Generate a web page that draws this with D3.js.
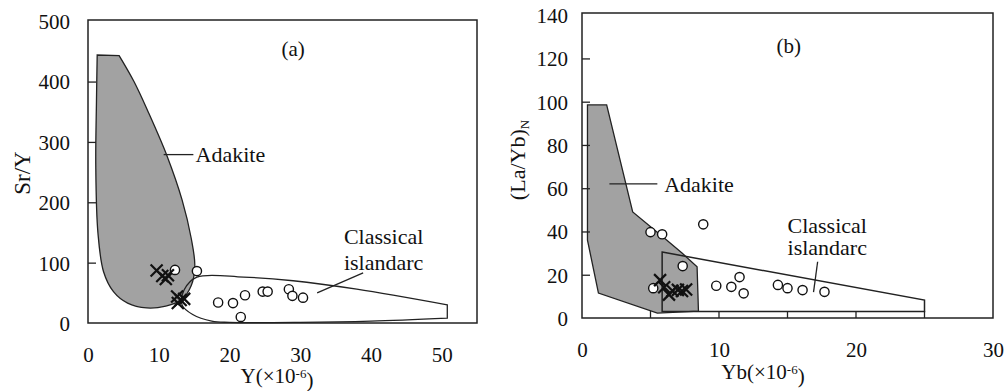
<!DOCTYPE html>
<html>
<head>
<meta charset="utf-8">
<script src="https://cdn.jsdelivr.net/npm/d3@7/dist/d3.min.js"></script>
<style>
  body { margin: 0; background: #fff; }
  svg text { font-family: "Liberation Serif", "DejaVu Serif", serif; fill: #111; }
</style>
</head>
<body>
<svg id="chart" width="1006" height="391"></svg>
<script>
// ---- data, panel (a): Sr/Y vs Y ----
const ticksAx = [0, 10, 20, 30, 40, 50];
const ticksAy = [0, 100, 200, 300, 400, 500];
// Adakite field outline (Y, Sr/Y), starting at top-right corner
const adakiteA = [[4.4, 443], [6.5, 400], [8.5, 350], [11.2, 276], [13.3, 204], [14.6, 140],
  [15.1, 95], [14.6, 62], [13.2, 38], [11.0, 28], [8.3, 25], [5.6, 33], [3.6, 52], [2.2, 85],
  [1.4, 150], [1.1, 260], [1.2, 370], [1.3, 444]];
// Classical island arc outline, starting at bottom-right corner
const arcA = [[50.8, 8], [40, 3], [30, 1], [20, 1], [17.5, 3], [14.8, 14], [13.3, 30],
  [13.6, 55], [15.4, 76], [22, 76], [29, 70], [38, 56], [50.8, 30]];
const circlesA = [[12.3, 88], [15.4, 86], [18.4, 34], [20.5, 33], [22.2, 46], [21.6, 10],
  [24.7, 52], [25.4, 52], [28.4, 56], [28.9, 45], [30.4, 42]];
const crossesA = [[9.7, 87], [10.5, 78], [11.0, 73], [11.3, 79], [12.6, 44], [13.1, 38],
  [13.6, 40], [12.7, 33]];

// ---- data, panel (b): (La/Yb)N vs Yb ----
const ticksBx = [0, 10, 20, 30];
const minorBx = [5, 10, 15, 20, 25];
const ticksBy = [0, 20, 40, 60, 80, 100, 120, 140];
const adakiteB = [[0.4, 98.5], [1.8, 98.5], [3.7, 49], [6.0, 37], [7.3, 30], [8.4, 23.7],
  [8.5, 3.2], [5.5, 2.3], [1.2, 11.5], [0.4, 36]];
const arcB = [[5.85, 30.5], [25, 8.3], [25, 3], [5.85, 3]];
const circlesB = [[5.0, 39.7], [5.85, 38.7], [8.85, 43.3], [7.35, 24], [5.2, 13.8], [9.8, 14.9],
  [10.9, 14.4], [11.5, 18.9], [11.8, 11.4], [14.3, 15.3], [15.0, 13.8], [16.1, 12.9], [17.7, 12.1]];
const crossesB = [[5.7, 17.5], [6.0, 14.2], [6.35, 10.8], [6.6, 12.6], [7.0, 13], [7.3, 12.5], [7.6, 13.2]];

const svg = d3.select("#chart");
const fieldFill = "#a2a2a2";

function drawMarkers(g, x, y, circles, crosses) {
  g.selectAll("circle.pt").data(circles).join("circle")
    .attr("class", "pt")
    .attr("cx", d => x(d[0])).attr("cy", d => y(d[1])).attr("r", 4.6)
    .attr("fill", "#fff").attr("stroke", "#111").attr("stroke-width", 1.4);
  const s = 6;
  g.selectAll("path.cr").data(crosses).join("path")
    .attr("class", "cr")
    .attr("d", d => {
      const cx = x(d[0]), cy = y(d[1]);
      return `M${cx - s},${cy - s}L${cx + s},${cy + s}M${cx - s},${cy + s}L${cx + s},${cy - s}`;
    })
    .attr("stroke", "#111").attr("stroke-width", 2.2).attr("fill", "none");
}

// ================= panel (a) =================
{
  const x = d3.scaleLinear().domain([0, 55]).range([88, 477]);
  const y = d3.scaleLinear().domain([0, 502]).range([323, 20]);
  const g = svg.append("g");

  const smooth = d3.line().x(d => x(d[0])).y(d => y(d[1])).curve(d3.curveCatmullRom.alpha(0.5));

  g.append("path").attr("d", smooth(adakiteA) + "Z")
    .attr("fill", fieldFill).attr("stroke", "#222").attr("stroke-width", 1.3);
  g.append("path").attr("d", smooth(arcA) + "Z")
    .attr("fill", "none").attr("stroke", "#222").attr("stroke-width", 1.3);

  // frame
  g.append("rect").attr("x", x(0)).attr("y", y(502)).attr("width", x(55) - x(0))
    .attr("height", y(0) - y(502)).attr("fill", "none").attr("stroke", "#222").attr("stroke-width", 1.5);

  // y axis: inward ticks, labels on the left
  const yAxis = d3.axisLeft(y).tickValues(ticksAy).tickSizeInner(-8).tickSizeOuter(0).tickPadding(18);
  const ya = g.append("g").attr("transform", `translate(${x(0)},0)`).call(yAxis);
  ya.select(".domain").remove();
  ya.selectAll(".tick line").attr("stroke", "#222").attr("stroke-width", 1.3)
    .filter(d => d === 0 || d === 500).remove();
  ya.selectAll("text").style("font-size", "21px").attr("dy", "0.35em");

  // x axis: labels only
  const xAxis = d3.axisBottom(x).tickValues(ticksAx).tickSize(0).tickPadding(24);
  const xa = g.append("g").attr("transform", `translate(0,${y(0)})`).call(xAxis);
  xa.select(".domain").remove();
  xa.selectAll("text").style("font-size", "21px");

  // annotations
  g.append("line").attr("x1", x(10.7)).attr("x2", x(14.9)).attr("y1", y(279)).attr("y2", y(279))
    .attr("stroke", "#222").attr("stroke-width", 1.3);
  g.append("text").attr("x", x(15.2)).attr("y", y(279)).attr("dy", "0.35em")
    .style("font-size", "22px").text("Adakite");
  g.append("line").attr("x1", x(32.4)).attr("y1", y(50)).attr("x2", x(38.9)).attr("y2", y(83))
    .attr("stroke", "#222").attr("stroke-width", 1.3);
  g.append("text").attr("x", x(41.8)).attr("y", y(143)).attr("text-anchor", "middle")
    .attr("dy", "0.35em").style("font-size", "22px").text("Classical");
  g.append("text").attr("x", x(41.8)).attr("y", y(101)).attr("text-anchor", "middle")
    .attr("dy", "0.35em").style("font-size", "22px").text("islandarc");
  g.append("text").attr("x", x(29)).attr("y", y(455)).attr("text-anchor", "middle")
    .attr("dy", "0.35em").style("font-size", "21px").text("(a)");

  drawMarkers(g, x, y, circlesA, crossesA);

  // axis titles
  g.append("text").attr("transform", "translate(22,173) rotate(-90)")
    .attr("text-anchor", "middle").attr("dy", "0.35em").style("font-size", "23px").text("Sr/Y");
  const xt = g.append("text").attr("x", 277).attr("y", 376).attr("text-anchor", "middle")
    .attr("dy", "0.35em").style("font-size", "21px");
  xt.append("tspan").text("Y(×10");
  xt.append("tspan").attr("dy", "-0.45em").style("font-size", "13px").text("-6");
  xt.append("tspan").attr("dy", "0.45em").text(")");
}

// ================= panel (b) =================
{
  const x = d3.scaleLinear().domain([0, 30]).range([582, 993]);
  const y = d3.scaleLinear().domain([0, 141]).range([318, 13]);
  const g = svg.append("g");

  const poly = d3.line().x(d => x(d[0])).y(d => y(d[1]));

  g.append("path").attr("d", poly(adakiteB) + "Z")
    .attr("fill", fieldFill).attr("stroke", "#222").attr("stroke-width", 1.3);
  g.append("path").attr("d", poly(arcB) + "Z")
    .attr("fill", "none").attr("stroke", "#222").attr("stroke-width", 1.5);

  g.append("rect").attr("x", x(0)).attr("y", y(141)).attr("width", x(30) - x(0))
    .attr("height", y(0) - y(141)).attr("fill", "none").attr("stroke", "#222").attr("stroke-width", 1.5);

  const yAxis = d3.axisLeft(y).tickValues(ticksBy).tickSizeInner(-8).tickSizeOuter(0).tickPadding(14);
  const ya = g.append("g").attr("transform", `translate(${x(0)},0)`).call(yAxis);
  ya.select(".domain").remove();
  ya.selectAll(".tick line").attr("stroke", "#222").attr("stroke-width", 1.3)
    .filter(d => d === 0 || d === 140).remove();
  ya.selectAll("text").style("font-size", "21px").attr("dy", "0.35em");

  // inward minor ticks on the bottom edge
  g.selectAll("line.xt").data(minorBx).join("line").attr("class", "xt")
    .attr("x1", d => x(d)).attr("x2", d => x(d)).attr("y1", y(0)).attr("y2", y(0) - 7)
    .attr("stroke", "#222").attr("stroke-width", 1.3);

  const xAxis = d3.axisBottom(x).tickValues(ticksBx).tickSize(0).tickPadding(24);
  const xa = g.append("g").attr("transform", `translate(0,${y(0)})`).call(xAxis);
  xa.select(".domain").remove();
  xa.selectAll("text").style("font-size", "21px");

  g.append("line").attr("x1", x(2.0)).attr("x2", x(5.5)).attr("y1", y(62)).attr("y2", y(62))
    .attr("stroke", "#222").attr("stroke-width", 1.3);
  g.append("text").attr("x", x(6.0)).attr("y", y(62)).attr("dy", "0.35em")
    .style("font-size", "22px").text("Adakite");
  g.append("line").attr("x1", x(16.9)).attr("y1", y(12)).attr("x2", x(17.2)).attr("y2", y(26))
    .attr("stroke", "#222").attr("stroke-width", 1.3);
  g.append("text").attr("x", x(17.9)).attr("y", y(43)).attr("text-anchor", "middle")
    .attr("dy", "0.35em").style("font-size", "22px").text("Classical");
  g.append("text").attr("x", x(17.9)).attr("y", y(32.5)).attr("text-anchor", "middle")
    .attr("dy", "0.35em").style("font-size", "22px").text("islandarc");
  g.append("text").attr("x", x(15.1)).attr("y", y(126)).attr("text-anchor", "middle")
    .attr("dy", "0.35em").style("font-size", "21px").text("(b)");

  drawMarkers(g, x, y, circlesB, crossesB);

  const yt = g.append("text").attr("transform", "translate(517,160) rotate(-90)")
    .attr("text-anchor", "middle").attr("dy", "0.35em").style("font-size", "22px");
  yt.append("tspan").text("(La/Yb)");
  yt.append("tspan").attr("dy", "0.35em").style("font-size", "13px").text("N");
  const xt = g.append("text").attr("x", 763).attr("y", 372).attr("text-anchor", "middle")
    .attr("dy", "0.35em").style("font-size", "21px");
  xt.append("tspan").text("Yb(×10");
  xt.append("tspan").attr("dy", "-0.45em").style("font-size", "13px").text("-6");
  xt.append("tspan").attr("dy", "0.45em").text(")");
}
</script>
</body>
</html>
